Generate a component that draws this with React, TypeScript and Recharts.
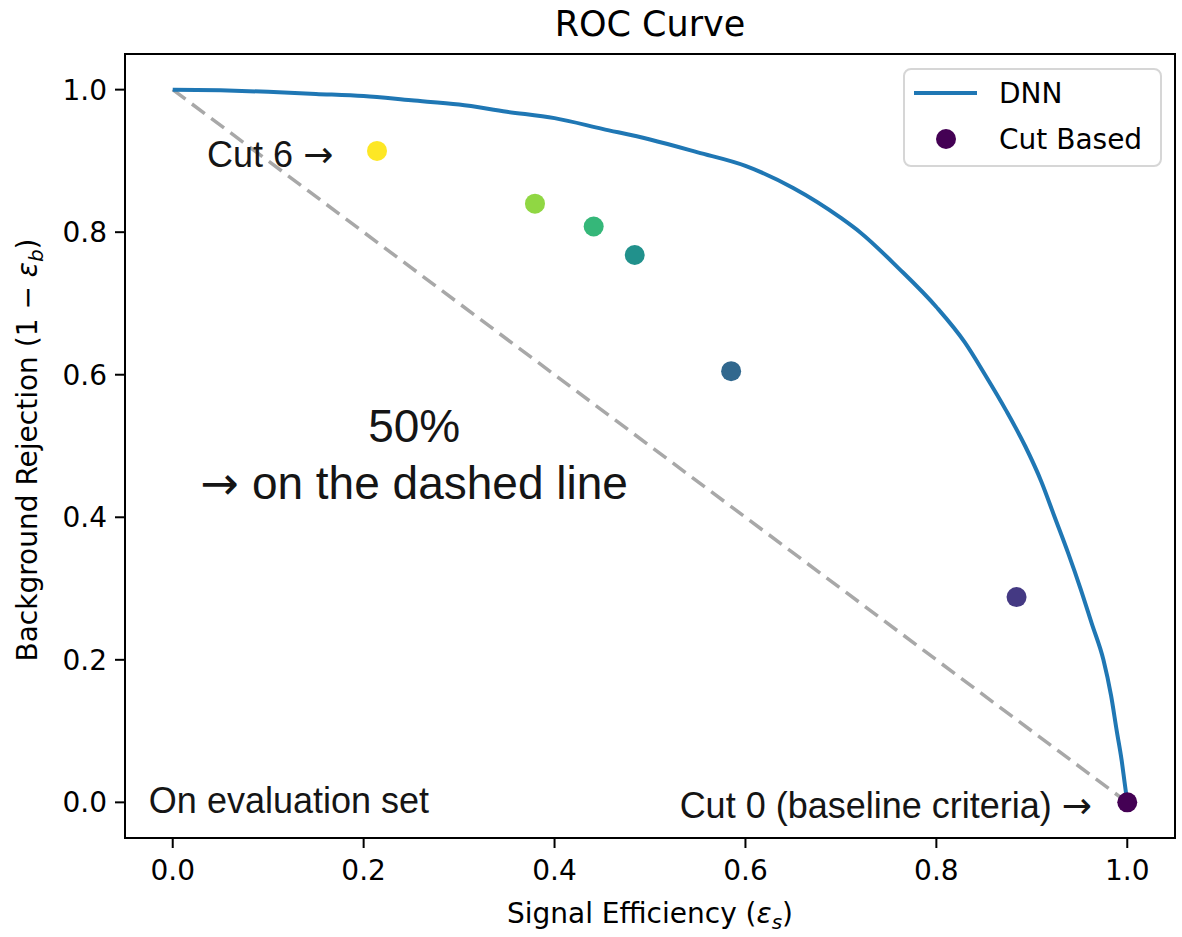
import React from "react";
import {
  ComposedChart,
  Line,
  Scatter,
  Cell,
  XAxis,
  YAxis,
  ReferenceArea,
  ReferenceDot,
} from "recharts";

// ROC curve of the DNN (signal efficiency vs background rejection)
const rocSignal = [
  0, 0.05, 0.1, 0.15, 0.2, 0.25, 0.3, 0.35, 0.4, 0.45, 0.5, 0.55, 0.6, 0.65,
  0.7, 0.72, 0.76, 0.8, 0.83, 0.851, 0.873, 0.893, 0.91, 0.924, 0.938, 0.951,
  0.963, 0.975, 0.983, 0.989, 0.994, 0.997, 1.0,
];
const rocRejection = [
  1.0, 0.999, 0.997, 0.994, 0.991, 0.985, 0.979, 0.969, 0.96, 0.945, 0.93,
  0.912, 0.893, 0.862, 0.82, 0.8, 0.75, 0.695, 0.645, 0.6, 0.55, 0.5, 0.45, 0.4,
  0.35, 0.3, 0.25, 0.2, 0.15, 0.1, 0.06, 0.03, 0.0,
];

// Cut based working points, Cut 0 .. Cut 6
const cutNames = ["Cut 0", "Cut 1", "Cut 2", "Cut 3", "Cut 4", "Cut 5", "Cut 6"];
const cutSignal = [1.0, 0.884, 0.585, 0.484, 0.441, 0.3795, 0.214];
const cutRejection = [0.0, 0.288, 0.605, 0.768, 0.808, 0.84, 0.914];
const cutColors = ["#440154", "#443983", "#31688e", "#21918c", "#35b779", "#90d743", "#fde725"];

// random-guess diagonal
const diagSignal = [0, 1];
const diagRejection = [1, 0];

const tickValues = [0, 0.2, 0.4, 0.6, 0.8, 1.0];

const rocData = rocSignal.map((x, i) => ({ x, y: rocRejection[i] }));
const cutData = cutSignal.map((x, i) => ({ x, y: cutRejection[i], name: cutNames[i] }));
const diagData = diagSignal.map((x, i) => ({ x, y: diagRejection[i] }));

const MPL = "'DejaVu Sans', sans-serif";
const ANN = "'Liberation Sans', Arial, sans-serif";
const ARROW = "→";

const annot = (
  key: string,
  x: number,
  y: number,
  before: string,
  after: string,
  arrowFirst: boolean,
  size: number,
  anchor: "start" | "middle" | "end"
) => (
  <ReferenceDot
    key={key}
    x={x}
    y={y}
    r={0}
    fill="none"
    stroke="none"
    ifOverflow="visible"
    isFront
    label={{
      content: (p: any) => (
        <text
          x={p.viewBox.x}
          y={p.viewBox.y}
          textAnchor={anchor}
          fontFamily={ANN}
          fontSize={size}
          fill="#151515"
        >
          {arrowFirst ? (
            <tspan fontFamily={MPL}>{ARROW}</tspan>
          ) : null}
          {before}
          {!arrowFirst && after === ARROW ? (
            <tspan fontFamily={MPL}>{ARROW}</tspan>
          ) : null}
        </text>
      ),
    }}
  />
);

export default function App() {
  return (
    <div
      style={{
        position: "absolute",
        left: 0,
        top: 0,
        width: 1182,
        height: 937,
        background: "#fff",
      }}
    >
      <ComposedChart
        width={1182}
        height={937}
        margin={{ top: 54, right: 7, bottom: 0, left: 0 }}
      >
        <XAxis
          type="number"
          dataKey="x"
          domain={[-0.05, 1.05]}
          ticks={tickValues}
          tickFormatter={(v: number) => v.toFixed(1)}
          allowDataOverflow
          height={99}
          tickSize={10}
          tickMargin={12}
          axisLine={{ stroke: "#000", strokeWidth: 2 }}
          tickLine={{ stroke: "#000", strokeWidth: 2 }}
          tick={{ fill: "#000", fontSize: 28, fontFamily: MPL }}
          label={{
            content: (p: any) => (
              <text
                x={p.viewBox.x + p.viewBox.width / 2}
                y={p.viewBox.y + 85}
                textAnchor="middle"
                fontFamily={MPL}
                fontSize={28}
                fill="#000"
              >
                {"Signal Efficiency ("}
                <tspan fontStyle="italic">ε</tspan>
                <tspan fontStyle="italic" fontSize={20} dy={6}>s</tspan>
                <tspan dy={-6}>)</tspan>
              </text>
            ),
          }}
        />
        <YAxis
          type="number"
          dataKey="y"
          domain={[-0.05, 1.05]}
          ticks={tickValues}
          tickFormatter={(v: number) => v.toFixed(1)}
          allowDataOverflow
          width={125}
          tickSize={10}
          tickMargin={8}
          axisLine={{ stroke: "#000", strokeWidth: 2 }}
          tickLine={{ stroke: "#000", strokeWidth: 2 }}
          tick={{ fill: "#000", fontSize: 28, fontFamily: MPL }}
          label={{
            content: (p: any) => {
              const cx = p.viewBox.x + 37;
              const cy = p.viewBox.y + p.viewBox.height / 2 + 4;
              return (
                <text
                  x={cx}
                  y={cy}
                  transform={`rotate(-90, ${cx}, ${cy})`}
                  textAnchor="middle"
                  fontFamily={MPL}
                  fontSize={28}
                  fill="#000"
                >
                  {"Background Rejection (1 − "}
                  <tspan fontStyle="italic">ε</tspan>
                  <tspan fontStyle="italic" fontSize={20} dy={6}>b</tspan>
                  <tspan dy={-6}>)</tspan>
                </text>
              );
            },
          }}
        />
        <Line
          data={diagData}
          dataKey="y"
          type="linear"
          stroke="#a8a8a8"
          strokeWidth={3.5}
          strokeDasharray="16 8"
          dot={false}
          activeDot={false}
          isAnimationActive={false}
        />
        <Scatter
          data={cutData}
          dataKey="y"
          isAnimationActive={false}
          shape={(p: any) => <circle cx={p.cx} cy={p.cy} r={10} fill={p.fill} />}
        >
          {cutData.map((d, i) => (
            <Cell key={d.name} fill={cutColors[i]} />
          ))}
        </Scatter>
        <Line
          data={rocData}
          dataKey="y"
          type="monotone"
          stroke="#1f77b4"
          strokeWidth={4}
          dot={false}
          activeDot={false}
          isAnimationActive={false}
        />
        <ReferenceArea
          x1={-0.05}
          x2={1.05}
          y1={-0.05}
          y2={1.05}
          fill="none"
          fillOpacity={0}
          stroke="#000"
          strokeWidth={2}
          ifOverflow="visible"
        />
        {annot("c6", 0.036, 0.892, "Cut 6 ", ARROW, false, 36, "start")}
        {annot("p50", 0.253, 0.505, "50%", "", false, 46, "middle")}
        {annot("dash", 0.253, 0.425, " on the dashed line", "", true, 46, "middle")}
        {annot("eval", -0.025, -0.015, "On evaluation set", "", false, 36, "start")}
        {annot("c0", 0.963, -0.022, "Cut 0 (baseline criteria) ", ARROW, false, 36, "end")}
      </ComposedChart>
      <svg
        width={1182}
        height={937}
        style={{ position: "absolute", left: 0, top: 0, pointerEvents: "none" }}
      >
        <text x={650} y={36} textAnchor="middle" fontFamily={MPL} fontSize={35} fill="#000">
          ROC Curve
        </text>
        <rect
          x={904}
          y={69}
          width={257}
          height={97}
          rx={7}
          fill="rgba(255,255,255,0.8)"
          stroke="#d6d6d6"
          strokeWidth={2}
        />
        <line x1={914} y1={93} x2={977} y2={93} stroke="#1f77b4" strokeWidth={4} />
        <text x={999} y={103} fontFamily={MPL} fontSize={28} fill="#000">
          DNN
        </text>
        <circle cx={946} cy={139} r={10} fill={cutColors[0]} />
        <text x={999} y={149} fontFamily={MPL} fontSize={28} fill="#000">
          Cut Based
        </text>
      </svg>
    </div>
  );
}
